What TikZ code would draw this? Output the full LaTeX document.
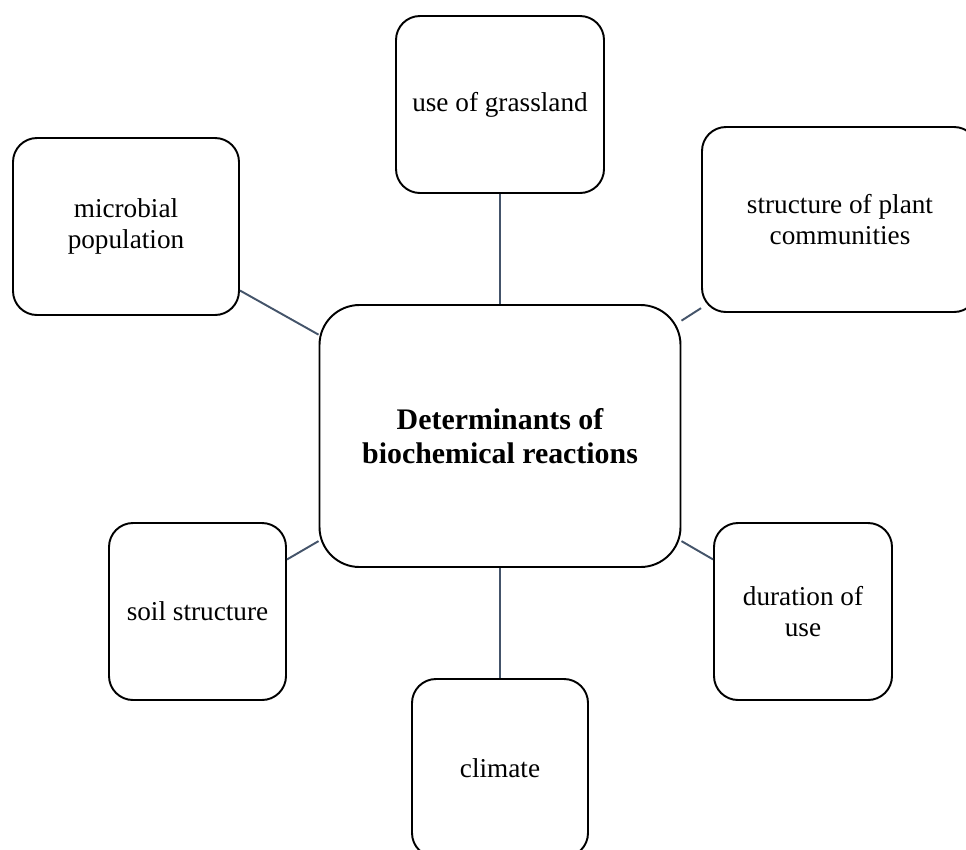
\documentclass[tikz,border=0pt]{standalone}
\usepackage{fontspec}
\setmainfont{Liberation Serif}
\usetikzlibrary{calc}
\definecolor{linkgray}{RGB}{68,84,106}
\tikzset{
  factor/.style={draw=black, line width=1.1pt, rounded corners=0.48cm, align=center, inner sep=0pt, font=\fontsize{15.5}{17.6}\selectfont},
  core/.style={factor, rounded corners=0.8cm, font=\fontsize{17}{19.2}\selectfont\bfseries},
  link/.style={draw=linkgray, line width=1.1pt}
}
\newcommand{\factor}[6]{ \node[factor, minimum width=#4*0.02cm, minimum height=#5*0.02cm] (#1) at (#2, #3) {#6};}

\begin{document}
\begin{tikzpicture}[x=0.02cm, y=-0.02cm]
\clip (0,0) rectangle (966,849);
%
\node[core, minimum width=361*0.02cm, minimum height=262*0.02cm] (core) at (500,436) {Determinants of\\biochemical reactions};
%
\factor{grass}{500}{104.5}{208}{177}{use of grassland}
\factor{microbe}{126}{226.5}{226}{177}{microbial\\population}
\factor{plant}{840}{219.5}{276}{185}{structure of plant\\communities}
\factor{soil}{197.5}{611.5}{177}{177}{soil structure}
\factor{duration}{803}{611.5}{178}{177}{duration of\\use}
\factor{climate}{500}{768}{176}{178}{climate}
%
\foreach \f in {grass, microbe, plant, soil, duration, climate}
  \draw[link] (\f) -- (core);

\end{tikzpicture}
\end{document}
